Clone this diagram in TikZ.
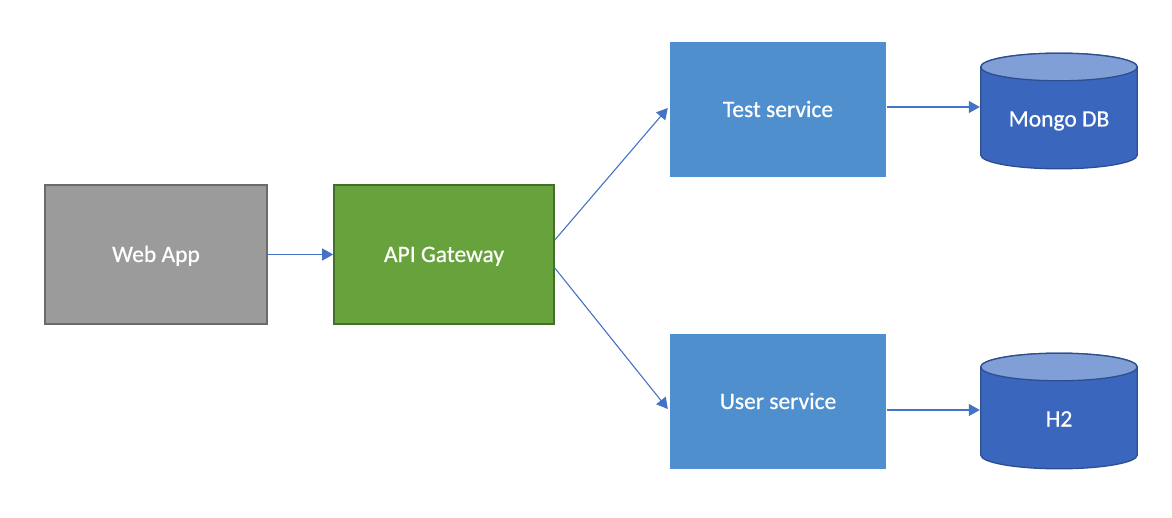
\documentclass[tikz,border=0pt]{standalone}
\usepackage{fontspec}
\setmainfont{Carlito}
\newfontfamily\lblfont{Carlito}[FakeBold=0.6]
\usetikzlibrary{arrows.meta}
\definecolor{webfill}{HTML}{9B9B9B}
\definecolor{webline}{HTML}{6B6B6B}
\definecolor{apifill}{HTML}{67A23C}
\definecolor{apiline}{HTML}{42702A}
\definecolor{svcfill}{HTML}{4F8FCD}
\definecolor{dbbody}{HTML}{3A67BD}
\definecolor{dbtop}{HTML}{809FD6}
\definecolor{dbline}{HTML}{2D4F8F}
\definecolor{arrowc}{HTML}{4472C4}
\tikzset{
  lbl/.style={text=white, font=\lblfont\fontsize{23.5}{27}\selectfont, text height=15pt, text depth=0pt},
  box/.style={rectangle, inner sep=0pt, lbl},
  webbox/.style={box, fill=webfill, draw=webline, line width=1.6pt, minimum width=222pt, minimum height=139pt},
  apibox/.style={box, fill=apifill, draw=apiline, line width=1.6pt, minimum width=220pt, minimum height=139pt},
  svcbox/.style={box, fill=svcfill, minimum width=216pt, minimum height=135pt},
  dbtext/.style={lbl, inner sep=0pt},
  dbbox/.style={rectangle, inner sep=0pt, minimum width=158pt, minimum height=117pt,
    path picture={
      \path[fill=dbbody, draw=dbline, line width=1.3pt]
        ([shift={(0.7pt,-14.5pt)}]path picture bounding box.north west)
        -- ([shift={(0.7pt,14.5pt)}]path picture bounding box.south west)
        arc[start angle=180, end angle=360, x radius=78.3pt, y radius=13.8pt]
        -- ([shift={(-0.7pt,-14.5pt)}]path picture bounding box.north east)
        arc[start angle=0, end angle=180, x radius=78.3pt, y radius=13.8pt]
        -- cycle;
      \path[fill=dbtop, draw=dbline, line width=1.3pt]
        ([yshift=-14.5pt]path picture bounding box.north)
        ellipse[x radius=78.3pt, y radius=13.8pt];
    }},
  conn/.style={draw=arrowc, line width=1.1pt, -{Triangle[length=11pt,width=12pt]}}
}
\begin{document}
\begin{tikzpicture}[x=1pt,y=1pt]
\useasboundingbox (0,0) rectangle (1172,517);
\node[webbox] (web) at (156,262.5) {Web App};
\node[apibox] (api) at (444,262.5) {API Gateway};
\node[svcbox] (test) at (778,407.5) {Test service};
\node[svcbox] (user) at (778,115.5) {User service};
\node[dbbox, label={[dbtext, yshift=-8pt]center:Mongo DB}] (mongo) at (1059,406) {};
\node[dbbox, label={[dbtext, yshift=-8pt]center:H2}] (h2) at (1059,106) {};
\draw[conn] (web.east) -- (api.west);
\draw[conn] ([yshift=14.5pt]api.east) -- ([xshift=-2pt,yshift=1.5pt]test.west);
\draw[conn] ([yshift=-13.5pt]api.east) -- ([xshift=-2pt,yshift=-7.5pt]user.west);
\draw[conn] ([xshift=1pt,yshift=2.5pt]test.east) -- ([yshift=4pt]mongo.west);
\draw[conn] ([xshift=1pt,yshift=-8.5pt]user.east) -- ([yshift=1pt]h2.west);
\end{tikzpicture}
\end{document}
